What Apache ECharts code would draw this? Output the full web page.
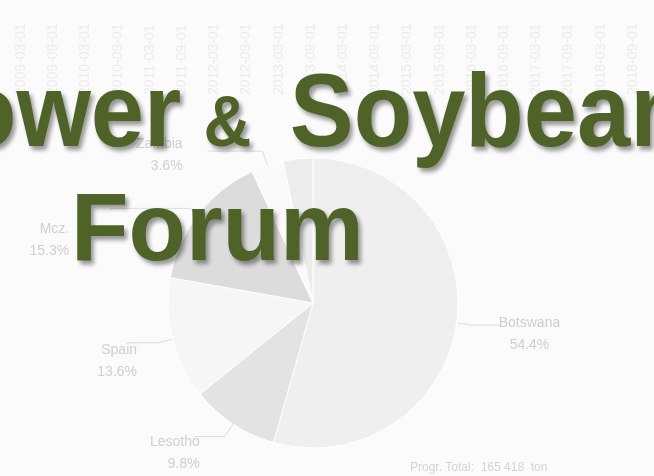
<!DOCTYPE html>
<html>
<head>
<meta charset="utf-8">
<script src="https://cdn.jsdelivr.net/npm/echarts@6/dist/echarts.min.js"></script>
<style>
  html, body { margin: 0; padding: 0; background: #fbfbfb; }
  #main { width: 654px; height: 476px; }
</style>
</head>
<body>
<div id="main"></div>
<script>
// faded background chart: dates along the top, pie of shares by country
var dates = ['2009-03-01', '2009-09-01', '2010-03-01', '2010-09-01', '2011-03-01',
  '2011-09-01', '2012-03-01', '2012-09-01', '2013-03-01', '2013-09-01',
  '2014-03-01', '2014-09-01', '2015-03-01', '2015-09-01', '2016-03-01',
  '2016-09-01', '2017-03-01', '2017-09-01', '2018-03-01', '2018-09-01'];
var countries = ['Botswana', 'Lesotho', 'Spain', 'Mcz.', 'Zambia', 'Other'];
var shares = [54.4, 9.8, 13.6, 15.3, 3.6, 3.3];
var totalText = 'Progr. Total:  165 418  ton';

var sliceColors = ['#efefef', '#e3e3e3', '#f6f6f6', '#dcdcdc', '#fafafa', '#ececec'];
var green = '#4f6228';

function big(size, pad) {
  return {
    fontSize: size,
    fontWeight: 'bold',
    fontFamily: '"Liberation Sans", Arial, sans-serif',
    fill: green,
    verticalAlign: 'bottom',
    padding: pad || 0,
    textShadowColor: 'rgba(0,0,0,0.4)',
    textShadowBlur: 4,
    textShadowOffsetX: 3,
    textShadowOffsetY: 4
  };
}

// label nudges, per slice index
var labelShift = { 0: [-12, 9], 1: [10, 17], 2: [14, 18], 3: [-36, 32], 4: [-20, 4] };

var myChart = echarts.init(document.getElementById('main'));
myChart.setOption({
  backgroundColor: '#fbfbfb',
  animation: false,
  title: {
    text: totalText,
    left: 405,
    top: 457,
    textStyle: { color: '#d4d4d4', fontSize: 12, fontWeight: 'normal', fontFamily: 'Arial' }
  },
  grid: { left: 5, right: 5, top: 100, bottom: 0 },
  xAxis: {
    type: 'category',
    position: 'top',
    data: dates,
    axisLine: { lineStyle: { color: '#f3f3f3' } },
    axisTick: { show: false },
    axisLabel: { rotate: 90, color: '#ececec', fontSize: 14, margin: 5, fontFamily: 'Arial', interval: 0 }
  },
  yAxis: { type: 'value', show: false },
  series: [{
    type: 'pie',
    center: [313, 303],
    radius: 145,
    startAngle: 90,
    clockwise: true,
    avoidLabelOverlap: false,
    label: {
      formatter: '{b}\n{d}%',
      color: '#cfcfcf',
      fontSize: 14,
      fontFamily: 'Arial',
      lineHeight: 22
    },
    labelLine: { lineStyle: { color: '#dcdcdc' }, length: 15, length2: 30 },
    labelLayout: function (p) {
      var s = labelShift[p.dataIndex];
      return s ? { dx: s[0], dy: s[1] } : {};
    },
    itemStyle: { borderColor: '#ffffff', borderWidth: 1 },
    data: countries.map(function (c, i) {
      var d = { name: c, value: shares[i], itemStyle: { color: sliceColors[i] } };
      if (c === 'Botswana') d.label = {
        formatter: '{c|{b}}\n{c|{d}%}',
        rich: { c: { width: 70, align: 'center', color: '#cfcfcf', fontSize: 14, fontFamily: 'Arial', lineHeight: 22 } }
      };
      if (c === 'Mcz.') d.labelLine = { length: 10, length2: 80 };
      if (c === 'Zambia') d.labelLine = { length: 15, length2: 55 };
      if (c === 'Other') { d.label = { show: false }; d.labelLine = { show: false }; }
      return d;
    })
  }],
  graphic: [{
    type: 'text',
    left: -42,
    top: 65,
    scaleX: 0.92,
    z: 100,
    style: {
      text: '{a|ower}{b|&}{a|Soybean}',
      rich: { a: big(104), b: big(72, [0, 42, 7, 24]) }
    }
  }, {
    type: 'text',
    left: 71,
    top: 186,
    scaleX: 0.98,
    z: 100,
    style: {
      text: '{a|Forum}',
      rich: { a: big(96) }
    }
  }]
});
</script>
</body>
</html>
